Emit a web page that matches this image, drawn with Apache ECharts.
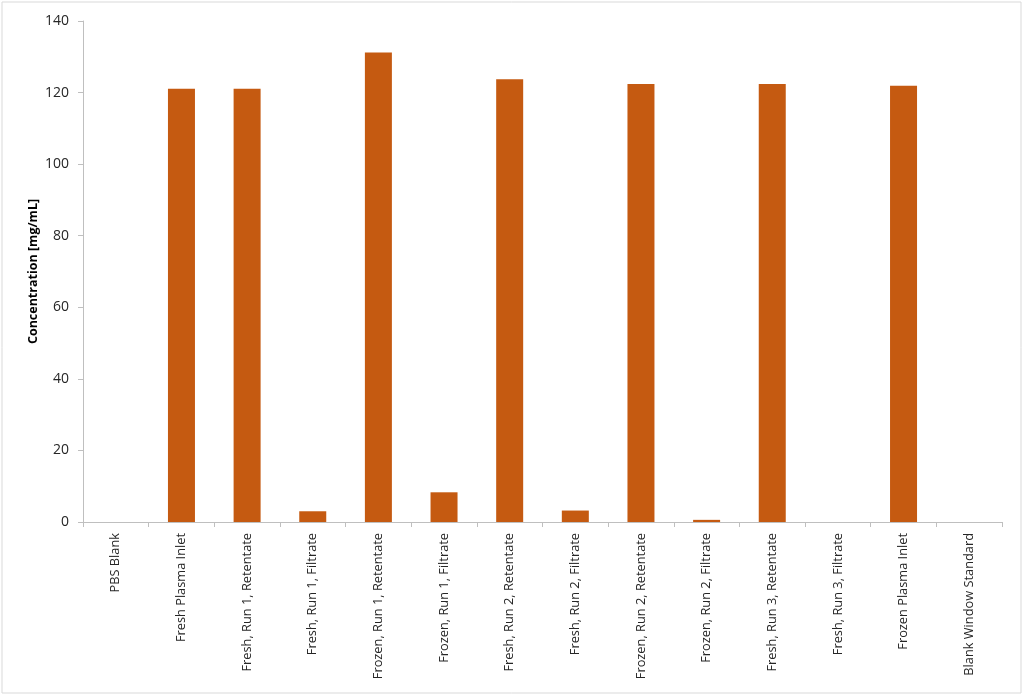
<!DOCTYPE html>
<html>
<head>
<meta charset="utf-8">
<script src="https://cdn.jsdelivr.net/npm/echarts@6/dist/echarts.min.js"></script>
<style>
  html, body { margin: 0; padding: 0; background: #fff; }
  #chart { width: 1024px; height: 696px; }
</style>
</head>
<body>
<div id="chart"></div>
<script>
// categories along the x axis
const categories = [
  "PBS Blank",
  "Fresh Plasma Inlet",
  "Fresh, Run 1, Retentate",
  "Fresh, Run 1, Filtrate",
  "Frozen, Run 1, Retentate",
  "Frozen, Run 1, Filtrate",
  "Fresh, Run 2, Retentate",
  "Fresh, Run 2, Filtrate",
  "Frozen, Run 2, Retentate",
  "Frozen, Run 2, Filtrate",
  "Fresh, Run 3, Retentate",
  "Fresh, Run 3, Filtrate",
  "Frozen Plasma Inlet",
  "Blank Window Standard"
];
// concentration values [mg/mL]
const concentration = [0, 121.1, 121.1, 3.0, 131.2, 8.3, 123.7, 3.2, 122.4, 0.6, 122.4, 0, 121.9, 0];
const yTicks = [0, 20, 40, 60, 80, 100, 120, 140];

const chart = echarts.init(document.getElementById("chart"));

const font = "Open Sans";

chart.setOption({
  animation: false,
  backgroundColor: "#fff",
  graphic: [{
    type: "rect",
    shape: { x: 2, y: 2, width: 1019, height: 691 },
    style: { fill: "none", stroke: "#d9d9d9", lineWidth: 1 }
  }],
  grid: { left: 83, right: 22, top: 21, bottom: 174 },
  xAxis: {
    type: "category",
    data: categories,
    axisLine: { lineStyle: { color: "#bfbfbf", width: 1 } },
    axisTick: { show: true, length: 5, inside: false, lineStyle: { color: "#bfbfbf" } },
    axisLabel: {
      rotate: 90,
      interval: 0,
      margin: 11,
      fontFamily: font,
      fontSize: 12.8,
      color: "#262626"
    }
  },
  yAxis: {
    type: "value",
    min: yTicks[0],
    max: yTicks[yTicks.length - 1],
    interval: 20,
    name: "Concentration [mg/mL]",
    nameLocation: "middle",
    nameGap: 43,
    nameMoveOverlap: false,
    nameTextStyle: { fontFamily: font, fontSize: 12.5, fontWeight: "bold", color: "#000" },
    axisLine: { show: true, lineStyle: { color: "#bfbfbf", width: 1 } },
    axisTick: { show: true, length: 5, lineStyle: { color: "#bfbfbf" } },
    splitLine: { show: false },
    axisLabel: {
      margin: 14,
      fontFamily: font,
      fontSize: 14,
      color: "#262626"
    }
  },
  series: [{
    type: "bar",
    data: concentration,
    barWidth: 27,
    itemStyle: { color: "#c55a11" }
  }]
});
</script>
</body>
</html>
